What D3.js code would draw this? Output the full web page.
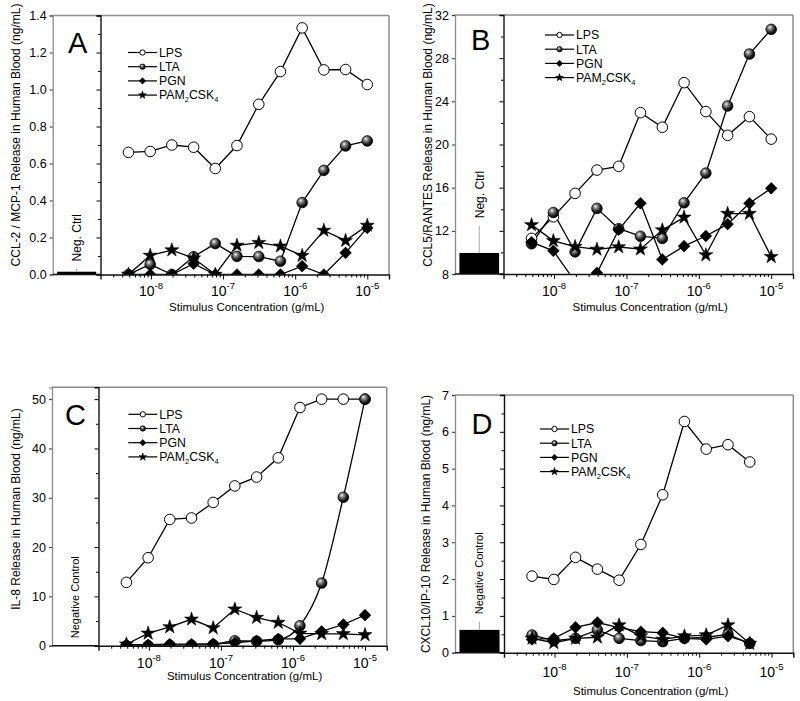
<!DOCTYPE html>
<html><head><meta charset="utf-8">
<script src="https://cdn.jsdelivr.net/npm/d3@7"></script>
<style>body{margin:0;background:#fff} text{font-family:"Liberation Sans",Arial,Helvetica,sans-serif;fill:#000}</style>
</head><body><svg id="chart" width="800" height="701"></svg>
<script>
// ---------------- DATA ----------------
const concentrations = [4.88e-9, 9.77e-9, 1.95e-8, 3.91e-8, 7.81e-8, 1.56e-7, 3.13e-7, 6.25e-7, 1.25e-6, 2.5e-6, 5e-6, 1e-5];
const seriesNames = ["LPS", "LTA", "PGN", "PAM2CSK4"];
const xDomain = [2e-9, 2e-5];
const xTickValues = [1e-8, 1e-7, 1e-6, 1e-5];
const xTickExponents = ["-8", "-7", "-6", "-5"];
const xTitle = "Stimulus Concentration (g/mL)";

// Panel A: CCL-2 / MCP-1
const ccl2LPS = [0.66, 0.665, 0.70, 0.688, 0.573, 0.697, 0.92, 1.097, 1.333, 1.106, 1.108, 1.027];
const ccl2LTA = [0, 0.055, 0, 0.096, 0.167, 0.098, 0.097, 0.072, 0.389, 0.563, 0.695, 0.722];
const ccl2PGN = [0, 0, 0, 0.058, 0, 0, 0, 0, 0.045, 0, 0.117, 0.252];
const ccl2PAM = [0, 0.103, 0.132, 0.088, 0, 0.157, 0.172, 0.153, 0.102, 0.238, 0.183, 0.265];
const ccl2Ctrl = 0.015, ccl2CtrlErr = 0.03;
const ccl2Ticks = [0, 0.2, 0.4, 0.6, 0.8, 1.0, 1.2, 1.4];

// Panel B: CCL5 / RANTES
const ccl5LPS = [11.3, 13.3, 15.47, 17.63, 17.98, 22.95, 21.6, 25.73, 23.05, 20.85, 22.58, 20.5];
const ccl5LTA = [10.8, 13.7, 10.05, 14.08, 12.2, 11.5, 11.3, 14.6, 17.35, 23.57, 28.38, 30.67];
const ccl5PGN = [10.95, 10.15, 7.3, 8.1, 12.1, 14.55, 9.35, 10.58, 11.52, 12.62, 14.55, 15.94];
const ccl5PAM = [12.55, 11.07, 10.53, 10.28, 10.5, 10.3, 12.07, 13.25, 9.76, 13.6, 13.6, 9.6];
const ccl5Ctrl = 9.95, ccl5CtrlErr = 12.47;
const ccl5Ticks = [8, 12, 16, 20, 24, 28, 32];

// Panel C: IL-8
const il8LPS = [12.84, 17.84, 25.6, 25.9, 29.05, 32.4, 34.2, 38.1, 48.3, 50.0, 50.0, 50.0];
const il8LTA = [0, 0, 0.1, 0.1, 0.2, 1.0, 0.9, 1.2, 4.05, 12.7, 30.1, 50.0];
const il8PGN = [0.2, 0.2, 0.3, 0.3, 0.4, 0.6, 1.0, 1.4, 1.4, 2.9, 4.3, 6.2];
const il8PAM = [0.3, 2.5, 3.8, 5.35, 3.6, 7.4, 5.7, 4.7, 2.5, 2.4, 2.4, 2.2];
const il8Ctrl = 0, il8CtrlErr = 0;
const il8Ticks = [0, 10, 20, 30, 40, 50];

// Panel D: CXCL10 / IP-10
const cxcl10LPS = [2.08, 1.99, 2.59, 2.27, 1.97, 2.94, 4.29, 6.28, 5.53, 5.65, 5.18];
const cxcl10LTA = [0.48, 0.33, 0.39, 0.62, 0.39, 0.33, 0.30, 0.39, 0.42, 0.50, 0.25];
const cxcl10PGN = [0.36, 0.39, 0.69, 0.82, 0.68, 0.57, 0.54, 0.39, 0.36, 0.45, 0.27];
const cxcl10PAM = [0.39, 0.27, 0.39, 0.42, 0.75, 0.45, 0.36, 0.45, 0.48, 0.75, 0.25];
const cxcl10Ctrl = 0.62, cxcl10CtrlErr = 0.84;
const cxcl10Ticks = [0, 1, 2, 3, 4, 5, 6, 7];

// ---------------- LAYOUT ----------------
const panels = [
  {letter:"A", series:[ccl2LPS, ccl2LTA, ccl2PGN, ccl2PAM], ctrl:ccl2Ctrl, ctrlErr:ccl2CtrlErr, ctrlLabel:"Neg. Ctrl", ctrlFs:12,
   yTicks:ccl2Ticks, yMax:1.4, yFmt:d3.format(".1f"), yTitle:"CCL-2 / MCP-1 Release in Human Blood (ng/mL)",
   L:{left:52.7, div:100.5, right:389, top:15.5, bottom:274.5, letterX:68, letterY:53, legX:128, legY:52.5,
      tickDy:21.5, titleDy:36.5, yTitleX:16, yTitleY:135}},
  {letter:"B", series:[ccl5LPS, ccl5LTA, ccl5PGN, ccl5PAM], ctrl:ccl5Ctrl, ctrlErr:ccl5CtrlErr, ctrlLabel:"Neg. Ctrl", ctrlFs:12,
   yTicks:ccl5Ticks, yMax:32, yFmt:d3.format("d"), yTitle:"CCL5/RANTES Release in Human Blood (ng/mL)",
   L:{left:455, div:503.5, right:793, top:15, bottom:274, letterX:471, letterY:50, legX:545, legY:35,
      tickDy:21.5, titleDy:36.5, yTitleX:427.5, yTitleY:135}},
  {letter:"C", series:[il8LPS, il8LTA, il8PGN, il8PAM], ctrl:il8Ctrl, ctrlErr:il8CtrlErr, ctrlLabel:"Negative Control", ctrlFs:11,
   yTicks:il8Ticks, yMax:52.4, yFmt:d3.format("d"), yTitle:"IL-8 Release in Human Blood (ng/mL)", smoothLTA:true,
   L:{left:52, div:98.5, right:386.7, top:387.3, bottom:645.7, letterX:65, letterY:425, legX:128.3, legY:414.3,
      tickDy:22, titleDy:34.5, yTitleX:16, yTitleY:509}},
  {letter:"D", series:[cxcl10LPS, cxcl10LTA, cxcl10PGN, cxcl10PAM], ctrl:cxcl10Ctrl, ctrlErr:cxcl10CtrlErr, ctrlLabel:"Negative Control", ctrlFs:11,
   yTicks:cxcl10Ticks, yMax:7, yFmt:d3.format("d"), yTitle:"CXCL10/IP-10 Release in Human Blood (ng/mL)",
   L:{left:455, div:504, right:793.3, top:395, bottom:652.7, letterX:471.5, letterY:433.5, legX:540, legY:429,
      tickDy:24.5, titleDy:42, yTitleX:426, yTitleY:524}}
];

const svg = d3.select("#chart");
const defs = svg.append("defs");
const grad = defs.append("radialGradient").attr("id", "ball")
  .attr("cx", "0.4").attr("cy", "0.38").attr("r", "0.62").attr("fx", "0.36").attr("fy", "0.3");
grad.append("stop").attr("offset", "0").attr("stop-color", "#f4f4f4");
grad.append("stop").attr("offset", "0.3").attr("stop-color", "#8a8a8a");
grad.append("stop").attr("offset", "0.75").attr("stop-color", "#1a1a1a");
grad.append("stop").attr("offset", "1").attr("stop-color", "#000");

const FRAME = "#8c8c8c";

function markerPath(type, big) {
  if (type === 0 || type === 1) return d3.symbol(d3.symbolCircle, big ? 88 : 22)();
  if (type === 2) return d3.symbol(d3.symbolSquare, big ? 68 : 20)();
  return d3.symbol(d3.symbolStar, big ? 60 : 18)();
}
function styleMarker(sel, type) {
  if (type === 0) sel.attr("fill", "#fff").attr("stroke", "#000").attr("stroke-width", 1);
  else if (type === 1) sel.attr("fill", "url(#ball)").attr("stroke", "#000").attr("stroke-width", 0.8);
  else sel.attr("fill", "#000").attr("stroke", "#000").attr("stroke-width", 0.6);
}

panels.forEach((p, pi) => {
  const L = p.L;
  const g = svg.append("g");
  const x = d3.scaleLog().domain(xDomain).range([L.div, L.right]);
  const y = d3.scaleLinear().domain([p.yTicks[0], p.yMax]).range([L.bottom, L.top]);
  const band = d3.scaleBand().domain([p.ctrlLabel]).range([L.left, L.div]).paddingInner(0.1).paddingOuter(0.1);

  // frame: gray top, right lines
  g.append("line").attr("x1", L.left).attr("x2", L.right).attr("y1", L.top).attr("y2", L.top)
    .attr("stroke", FRAME).attr("stroke-width", 1.5);
  g.append("line").attr("x1", L.right).attr("x2", L.right).attr("y1", L.top).attr("y2", L.bottom)
    .attr("stroke", FRAME).attr("stroke-width", 1.5);

  // left axis (labels) for control area
  const leftAx = g.append("g").attr("transform", `translate(${L.left},0)`)
    .call(d3.axisLeft(y).tickValues(p.yTicks).tickFormat(p.yFmt).tickSize(3).tickPadding(3));
  leftAx.select(".domain").attr("stroke", FRAME).attr("stroke-width", 1.3);
  leftAx.selectAll(".tick line").attr("stroke", "#333");
  leftAx.selectAll("text").attr("font-size", 12.5).attr("fill", "#000");

  // control bar
  const bw = band.bandwidth(), bx = band(p.ctrlLabel), cx = bx + bw / 2;
  if (p.ctrl > p.yTicks[0]) {
    g.append("rect").attr("x", bx).attr("width", bw).attr("y", y(p.ctrl))
      .attr("height", y(p.yTicks[0]) - y(p.ctrl)).attr("fill", "#000");
  }
  if (p.ctrlErr > p.ctrl) {
    g.append("line").attr("x1", cx).attr("x2", cx).attr("y1", y(p.ctrl)).attr("y2", y(p.ctrlErr))
      .attr("stroke", "#aaa").attr("stroke-width", 1);
  }
  const labStart = y(Math.max(p.ctrlErr, p.ctrl, p.yTicks[0])) - 7.5;
  g.append("text").attr("transform", `translate(${cx + p.ctrlFs * 0.36},${labStart}) rotate(-90)`)
    .attr("font-size", p.ctrlFs).text(p.ctrlLabel);

  // divider / y axis of the plot
  const divAx = g.append("g").attr("transform", `translate(${L.div},0)`)
    .call(d3.axisLeft(y).tickValues(p.yTicks).tickFormat("").tickSize(4));
  divAx.select(".domain").attr("stroke", "#111").attr("stroke-width", 1.4);
  const minorY = [];
  for (let i = 0; i < p.yTicks.length - 1; i++) minorY.push((p.yTicks[i] + p.yTicks[i + 1]) / 2);
  g.append("g").attr("transform", `translate(${L.div},0)`)
    .call(d3.axisLeft(y).tickValues(minorY).tickFormat("").tickSize(2.5))
    .select(".domain").remove();

  // bottom axis
  g.append("line").attr("x1", L.left).attr("x2", L.div).attr("y1", L.bottom).attr("y2", L.bottom)
    .attr("stroke", "#111").attr("stroke-width", 1.4);
  const xAx = g.append("g").attr("transform", `translate(0,${L.bottom})`)
    .call(d3.axisBottom(x).tickValues(xTickValues).tickFormat("").tickSize(5));
  xAx.select(".domain").attr("stroke", "#111").attr("stroke-width", 1.4);
  const minorX = [];
  for (let e = -9; e <= -5; e++) for (let k = 2; k <= 9; k++) {
    const v = k * Math.pow(10, e);
    if (v > xDomain[0] && v < xDomain[1]) minorX.push(v);
  }
  g.append("g").attr("transform", `translate(0,${L.bottom})`)
    .call(d3.axisBottom(x).tickValues(minorX).tickFormat("").tickSize(3))
    .select(".domain").remove();
  xTickValues.forEach((v, i) => {
    const t = g.append("text").attr("x", x(v)).attr("y", L.bottom + L.tickDy)
      .attr("text-anchor", "middle").attr("font-size", 14);
    t.append("tspan").text("10");
    t.append("tspan").attr("dy", -7).attr("font-size", 9.5).text(xTickExponents[i]);
  });
  g.append("text").attr("x", (L.div + L.right) / 2 + 2).attr("y", L.bottom + L.titleDy)
    .attr("text-anchor", "middle").attr("font-size", 11.5).text(xTitle);

  // y title
  g.append("text").attr("transform", `translate(${L.yTitleX + 4.3},${L.yTitleY}) rotate(-90)`)
    .attr("text-anchor", "middle").attr("font-size", 12).text(p.yTitle);

  // panel letter
  g.append("text").attr("x", L.letterX).attr("y", L.letterY).attr("font-size", 29).text(p.letter);

  // series
  const clipId = "clip" + pi;
  defs.append("clipPath").attr("id", clipId).append("rect")
    .attr("x", L.div).attr("y", L.top - 8).attr("width", L.right - L.div).attr("height", L.bottom - L.top + 8);
  const plot = g.append("g").attr("clip-path", `url(#${clipId})`);
  p.series.forEach((vals, si) => {
    const pts = vals.map((v, i) => ({c: concentrations[i], v}));
    const line = d3.line().x(d => x(d.c)).y(d => y(d.v))
      .curve(p.smoothLTA && si === 1 ? d3.curveMonotoneX : d3.curveLinear);
    plot.append("path").datum(pts).attr("d", line).attr("fill", "none")
      .attr("stroke", "#000").attr("stroke-width", 1.3);
  });
  p.series.forEach((vals, si) => {
    const pts = vals.map((v, i) => ({c: concentrations[i], v}));
    const m = plot.selectAll(null).data(pts).enter().append("path")
      .attr("d", markerPath(si, true))
      .attr("transform", d => `translate(${x(d.c)},${y(d.v)})` + (si === 2 ? " rotate(45)" : ""));
    styleMarker(m, si);
  });

  // legend
  seriesNames.forEach((name, si) => {
    const ly = L.legY + si * 14.2;
    g.append("line").attr("x1", L.legX).attr("x2", L.legX + 29).attr("y1", ly).attr("y2", ly)
      .attr("stroke", "#000").attr("stroke-width", 1.2);
    const m = g.append("path").attr("d", markerPath(si, false))
      .attr("transform", `translate(${L.legX + 14.5},${ly})` + (si === 2 ? " rotate(45)" : ""));
    styleMarker(m, si);
    const t = g.append("text").attr("x", L.legX + 31).attr("y", ly + 4.3).attr("font-size", 12.3);
    if (name === "PAM2CSK4") {
      t.append("tspan").text("PAM");
      t.append("tspan").attr("font-size", 7.5).attr("dy", 3).text("2");
      t.append("tspan").attr("dy", -3).text("CSK");
      t.append("tspan").attr("font-size", 7.5).attr("dy", 3).text("4");
    } else t.text(name);
  });
});
</script></body></html>
